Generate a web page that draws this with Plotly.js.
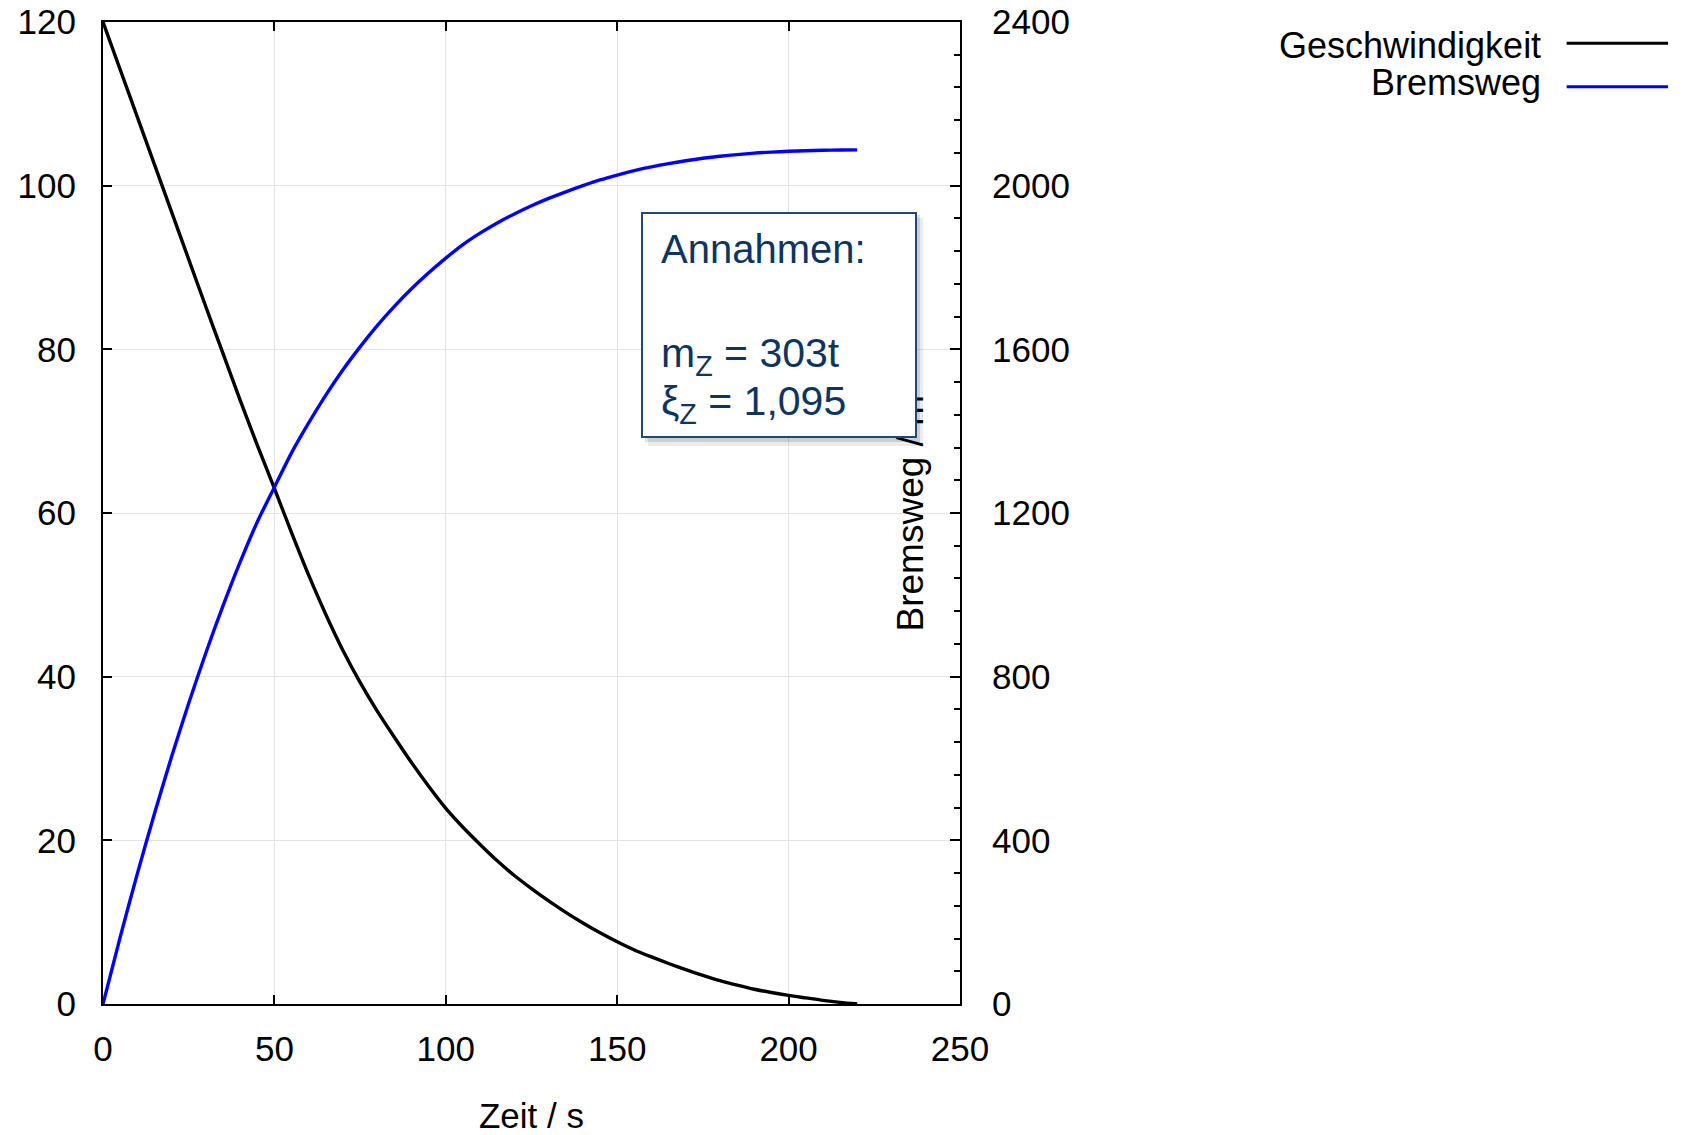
<!DOCTYPE html>
<html>
<head>
<meta charset="utf-8">
<script src="https://cdn.plot.ly/plotly-3.0.1.min.js"></script>
<style>
  html, body { margin: 0; padding: 0; background: #ffffff; }
  #chart { width: 1688px; height: 1135px; }
</style>
</head>
<body>
<div id="chart"></div>
<script>
// ---- data ----
const zeit = [0, 5, 10, 15, 20, 25, 30, 35, 40, 45, 50, 55, 60, 65, 70, 75, 80, 85, 90, 95, 100,
              105, 110, 115, 120, 125, 130, 135, 140, 145, 150, 155, 160, 165, 170, 175, 180,
              185, 190, 195, 200, 205, 210, 215, 220];
const geschwindigkeit = [120, 114.2, 108.4, 102.6, 96.8, 91.0, 85.2, 79.5, 73.8, 68.3, 63.0, 57.6, 52.4,
                         47.6, 43.2, 39.3, 35.8, 32.6, 29.5, 26.6, 23.9,
                         21.6, 19.5, 17.5, 15.7, 14.1, 12.6, 11.2, 9.9, 8.7, 7.6, 6.6, 5.75, 4.95, 4.2,
                         3.5, 2.85, 2.3, 1.8, 1.4, 1.05, 0.75, 0.45, 0.2, 0];
const bremsweg = [0, 163, 318, 465, 604, 735, 858, 973, 1080, 1178, 1263, 1347, 1420, 1488, 1550, 1606,
                  1658, 1705, 1748, 1787, 1823,
                  1856, 1884, 1909, 1931, 1951, 1969, 1985, 2000, 2014, 2026, 2037, 2046, 2054, 2061,
                  2067, 2072, 2076, 2079.5, 2082, 2084, 2085.5, 2086.5, 2087, 2087.5];

const seriesNames = ["Geschwindigkeit", "Bremsweg"];
const xTicks = [0, 50, 100, 150, 200, 250];
const yTicks = [0, 20, 40, 60, 80, 100, 120];
const y2Ticks = [0, 400, 800, 1200, 1600, 2000, 2400];
const xTitle = "Zeit / s";
const y2Title = "Bremsweg / m";
const boxLines = ["Annahmen:", "m<sub>Z</sub> = 303t", "ξ<sub>Z</sub> = 1,095"];

// ---- styling ----
const FONT = "Liberation Sans, Arial, Helvetica, sans-serif";
const NAVY_TEXT = "#0e3560";
const NAVY_BORDER = "#1d4a78";
const GRID = "#e4e4e4";

const traces = [
  {
    x: zeit, y: geschwindigkeit, name: seriesNames[0], type: "scatter", mode: "lines",
    line: { color: "#000000", width: 3.4, shape: "spline", smoothing: 0.8 },
    yaxis: "y", showlegend: false
  },
  {
    x: zeit, y: bremsweg, name: seriesNames[1], type: "scatter", mode: "lines",
    line: { color: "#0000ff", width: 3.4, shape: "spline", smoothing: 0.8 },
    yaxis: "y2", showlegend: false
  }
];

const tickFont = { family: FONT, size: 35, color: "#000000" };

const layout = {
  width: 1688, height: 1135,
  margin: { l: 103, r: 728, t: 22, b: 131, pad: 0 },
  paper_bgcolor: "#ffffff", plot_bgcolor: "#ffffff",
  showlegend: false,
  font: { family: FONT, color: "#000000" },
  xaxis: {
    range: [0, 250], tickvals: xTicks, ticktext: xTicks.map(String),
    ticks: "inside", ticklen: 9, tickwidth: 2, tickcolor: "#000000",
    showline: true, linewidth: 2, linecolor: "#000000", mirror: "ticks",
    showgrid: true, gridcolor: GRID, gridwidth: 1, zeroline: false,
    tickfont: tickFont, ticklabelstandoff: 13,
    title: { text: xTitle, font: { family: FONT, size: 35, color: "#000000" }, standoff: 43 },
    automargin: false
  },
  yaxis: {
    range: [0, 120], tickvals: yTicks, ticktext: yTicks.map(String),
    ticks: "inside", ticklen: 9, tickwidth: 2, tickcolor: "#000000",
    showline: true, linewidth: 2, linecolor: "#000000", mirror: false,
    showgrid: true, gridcolor: GRID, gridwidth: 1, zeroline: false,
    tickfont: tickFont, ticklabelstandoff: 18, automargin: false
  },
  yaxis2: {
    range: [0, 2400], tickvals: y2Ticks, ticktext: y2Ticks.map(String),
    overlaying: "y", side: "right", anchor: "x",
    ticks: "inside", ticklen: 10, tickwidth: 2, tickcolor: "#000000",
    minor: { dtick: 80, ticks: "inside", ticklen: 6, tickwidth: 2, tickcolor: "#000000", showgrid: false },
    showline: true, linewidth: 2, linecolor: "#000000",
    showgrid: false, zeroline: false,
    tickfont: tickFont, ticklabelstandoff: 23, automargin: false
  },
  shapes: [
    // soft shadow of the info box
    { type: "rect", xref: "paper", yref: "paper", x0: 0.6359, x1: 0.9568, y0: 0.5682, y1: 0.8004,
      fillcolor: "rgba(0,0,0,0.08)", line: { width: 0 }, layer: "above" },
    { type: "rect", xref: "paper", yref: "paper", x0: 0.6324, x1: 0.9533, y0: 0.5723, y1: 0.8035,
      fillcolor: "rgba(0,0,0,0.12)", line: { width: 0 }, layer: "above" },
    // legend samples
    { type: "line", xref: "paper", yref: "paper", x0: 1.7079, x1: 1.8262, y0: 0.9783, y1: 0.9783,
      line: { color: "#000000", width: 3 } },
    { type: "line", xref: "paper", yref: "paper", x0: 1.7079, x1: 1.8262, y0: 0.9341, y1: 0.9341,
      line: { color: "#0000ff", width: 3 } }
  ],
  annotations: [
    // right axis title (drawn inside the plot, partly covered by the box)
    { xref: "paper", yref: "paper", x: 0.9422, y: 0.5, text: y2Title, textangle: -90,
      showarrow: false, xanchor: "center", yanchor: "middle",
      font: { family: FONT, size: 37, color: "#000000" } },
    // info box
    { xref: "paper", yref: "paper", x: 0.7885, y: 0.6919, text: "&nbsp;", showarrow: false,
      xanchor: "center", yanchor: "middle", width: 272, height: 222,
      bgcolor: "#ffffff", bordercolor: NAVY_BORDER, borderwidth: 2, borderpad: 0,
      font: { family: FONT, size: 20, color: "#ffffff" } },
    { xref: "paper", yref: "paper", x: 0.6488, y: 0.7936, text: boxLines[0], showarrow: false,
      xanchor: "left", yanchor: "top", align: "left",
      font: { family: FONT, size: 40, color: NAVY_TEXT } },
    { xref: "paper", yref: "paper", x: 0.6488, y: 0.6884, text: boxLines[1], showarrow: false,
      xanchor: "left", yanchor: "top", align: "left",
      font: { family: FONT, size: 41, color: NAVY_TEXT } },
    { xref: "paper", yref: "paper", x: 0.6488, y: 0.6392, text: boxLines[2], showarrow: false,
      xanchor: "left", yanchor: "top", align: "left",
      font: { family: FONT, size: 41, color: NAVY_TEXT } },
    // legend texts
    { xref: "paper", yref: "paper", x: 1.6798, y: 0.9989, text: seriesNames[0], showarrow: false,
      xanchor: "right", yanchor: "top", font: { family: FONT, size: 36, color: "#000000" } },
    { xref: "paper", yref: "paper", x: 1.6798, y: 0.9616, text: seriesNames[1], showarrow: false,
      xanchor: "right", yanchor: "top", font: { family: FONT, size: 36, color: "#000000" } }
  ]
};

Plotly.newPlot("chart", traces, layout, { displayModeBar: false, staticPlot: true });
</script>
</body>
</html>
